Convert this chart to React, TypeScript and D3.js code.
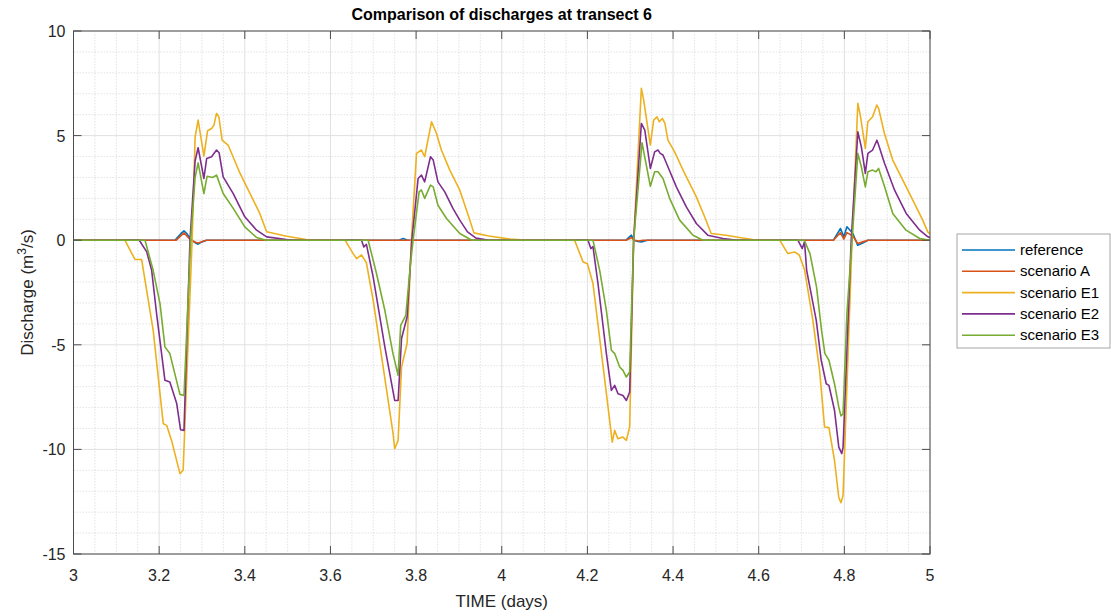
import React from "react";
import * as d3 from "d3";

type P = [number, number];

const xTicks = [3, 3.2, 3.4, 3.6, 3.8, 4, 4.2, 4.4, 4.6, 4.8, 5];
const yTicks = [10, 5, 0, -5, -10, -15];
const seriesNames = ["reference", "scenario A", "scenario E1", "scenario E2", "scenario E3"];
const seriesColors = ["#0072BD", "#D95319", "#EDB120", "#7E2F8E", "#77AC30"];

const reference: P[] = [
  [3, 0], [3.237, 0], [3.25, 0.3], [3.258, 0.45], [3.265, 0.3], [3.276, 0], [3.284, -0.12], [3.291, -0.19], [3.3, -0.08], [3.311, 0],
  [3.76, 0], [3.77, 0.08], [3.78, 0],
  [4.29, 0], [4.3027, 0.24], [4.308, 0], [4.318, -0.06], [4.326, -0.08], [4.34, 0],
  [4.7744, 0], [4.791, 0.56], [4.7987, 0.16], [4.806, 0.64], [4.82, 0.32], [4.831, -0.24], [4.843, -0.13], [4.855, 0], [5, 0],
];

const scenarioA: P[] = [
  [3, 0], [3.24, 0], [3.258, 0.35], [3.274, 0], [3.285, -0.1], [3.291, -0.13], [3.31, 0],
  [4.29, 0], [4.303, 0.12], [4.31, 0], [4.32, -0.04], [4.33, 0],
  [4.7744, 0], [4.791, 0.36], [4.7987, 0.05], [4.806, 0.36], [4.82, 0.2], [4.831, -0.16], [4.843, -0.08], [4.855, 0], [5, 0],
];

const scenarioE1: P[] = [
  [3, 0], [3.12, 0], [3.1435, -0.92], [3.159, -0.92], [3.186, -4.3], [3.2096, -8.77], [3.2175, -8.85], [3.229, -9.57], [3.2485, -11.16], [3.256, -11.0],
  [3.277, 0], [3.284, 4.94], [3.291, 5.74], [3.3045, 4.02], [3.313, 5.23], [3.3225, 5.34], [3.328, 5.5], [3.334, 6.06], [3.3395, 5.9], [3.347, 4.78],
  [3.361, 4.55], [3.389, 3.19], [3.416, 2.07], [3.435, 1.28], [3.451, 0.4], [3.4975, 0.19], [3.544, 0.03], [3.56, 0],
  [3.634, 0], [3.653, -0.64], [3.661, -0.88], [3.6725, -0.7], [3.684, -1.08], [3.6997, -2.87], [3.723, -6.06], [3.7463, -9.25], [3.75, -9.97], [3.758, -9.57],
  [3.766, -6.06], [3.779, -4.94], [3.789, 0], [3.801, 4.15], [3.8125, 4.31], [3.82, 3.99], [3.836, 5.66], [3.8476, 5.1], [3.859, 4.31], [3.8787, 3.35],
  [3.902, 2.39], [3.92, 1.3], [3.935, 0.35], [3.97, 0.2], [4.02, 0.05], [4.06, 0],
  [4.17, 0], [4.19, -1.04], [4.2, -1.12], [4.213, -2.07], [4.233, -5.42], [4.252, -8.61], [4.258, -9.65], [4.2637, -9.09], [4.271, -9.49], [4.283, -9.41],
  [4.291, -9.57], [4.2987, -8.93], [4.308, 0], [4.326, 7.26], [4.3314, 6.7], [4.347, 4.55], [4.3547, 5.74], [4.3625, 5.9], [4.368, 5.66], [4.375, 5.82],
  [4.381, 5.58], [4.388, 4.78], [4.4037, 4.22], [4.427, 3.19], [4.4544, 2.07], [4.4737, 1.12], [4.489, 0.32], [4.524, 0.24], [4.555, 0.13], [4.586, 0.03], [4.6, 0],
  [4.649, 0], [4.668, -0.64], [4.684, -0.56], [4.695, -0.72], [4.7073, -1.44], [4.7265, -3.83], [4.7422, -6.22], [4.7538, -8.93], [4.764, -8.96], [4.777, -10.53],
  [4.787, -12.3], [4.792, -12.55], [4.797, -12.2], [4.818, 0], [4.8315, 6.54], [4.837, 6.0], [4.849, 4.39], [4.8548, 5.66], [4.866, 5.9], [4.8757, 6.46],
  [4.88, 6.3], [4.8936, 5.1], [4.913, 3.83], [4.9444, 2.55], [4.9677, 1.59], [4.983, 0.96], [4.9947, 0.4], [5, 0.3],
];

const scenarioE2: P[] = [
  [3, 0], [3.1536, 0], [3.171, -0.56], [3.1825, -1.44], [3.194, -3.51], [3.2135, -6.7], [3.225, -6.78], [3.241, -7.81], [3.25, -9.06], [3.258, -9.09],
  [3.272, 0], [3.284, 3.8], [3.291, 4.42], [3.3045, 2.95], [3.311, 3.91], [3.3225, 3.99], [3.334, 4.31], [3.34, 4.18], [3.3495, 3.03], [3.373, 2.23],
  [3.4, 1.12], [3.4275, 0.48], [3.451, 0.16], [3.4975, 0.03], [3.52, 0],
  [3.6725, 0], [3.678, -0.32], [3.684, -0.2], [3.6997, -1.75], [3.727, -5.1], [3.75, -7.66], [3.758, -7.66], [3.766, -4.7], [3.779, -3.67], [3.79, 0],
  [3.8047, 2.95], [3.8125, 3.11], [3.82, 2.79], [3.8336, 3.99], [3.84, 3.83], [3.851, 2.79], [3.867, 2.31], [3.886, 1.52], [3.902, 0.96], [3.92, 0.4], [3.94, 0.1], [3.97, 0],
  [4.2014, 0], [4.208, -0.4], [4.213, -0.3], [4.2247, -2.07], [4.2443, -5.42], [4.256, -7.18], [4.2637, -6.94], [4.2715, -7.34], [4.283, -7.42], [4.291, -7.66],
  [4.2987, -7.26], [4.308, 0], [4.326, 5.58], [4.334, 5.26], [4.347, 3.43], [4.357, 4.22], [4.3648, 4.31], [4.37, 4.15], [4.3765, 4.07], [4.388, 3.51],
  [4.4077, 2.55], [4.431, 1.59], [4.4544, 0.8], [4.481, 0.24], [4.5165, 0.08], [4.55, 0],
  [4.6915, 0], [4.7017, -0.4], [4.707, -0.08], [4.712, -1.44], [4.7344, -3.83], [4.746, -5.74], [4.7577, -6.86], [4.764, -6.94], [4.777, -8.13], [4.787, -9.89],
  [4.794, -10.2], [4.797, -9.9], [4.816, 0], [4.8315, 5.18], [4.8397, 4.46], [4.849, 3.19], [4.855, 4.15], [4.866, 4.31], [4.876, 4.78], [4.88, 4.55],
  [4.894, 3.67], [4.9173, 2.39], [4.9444, 1.28], [4.976, 0.48], [4.995, 0.16], [5, 0.12],
];

const scenarioE3: P[] = [
  [3, 0], [3.167, 0], [3.186, -1.44], [3.202, -3.03], [3.2135, -5.1], [3.225, -5.42], [3.2485, -7.37], [3.258, -7.42], [3.2735, 0], [3.284, 3.0],
  [3.291, 3.7], [3.3045, 2.23], [3.312, 3.06], [3.3245, 3.0], [3.334, 3.11], [3.3495, 2.23], [3.373, 1.52], [3.4, 0.64], [3.4275, 0.13], [3.45, 0],
  [3.688, 0], [3.7075, -1.59], [3.727, -3.35], [3.746, -5.42], [3.758, -6.46], [3.764, -4.07], [3.776, -3.59], [3.787, -1.12], [3.793, 0], [3.807, 2.31],
  [3.8125, 2.4], [3.82, 2.0], [3.8336, 2.63], [3.84, 2.55], [3.851, 1.67], [3.871, 1.04], [3.902, 0.32], [3.93, 0],
  [4.213, 0], [4.2287, -1.44], [4.2443, -3.35], [4.256, -5.26], [4.2637, -5.42], [4.2754, -6.06], [4.283, -6.22], [4.291, -6.54], [4.2987, -6.3], [4.308, 0],
  [4.3275, 4.66], [4.347, 2.58], [4.357, 3.27], [4.3648, 3.27], [4.3765, 2.95], [4.392, 2.0], [4.4154, 0.96], [4.4466, 0.24], [4.47, 0],
  [4.7065, 0], [4.7197, -0.64], [4.735, -2.23], [4.7468, -4.31], [4.7546, -5.42], [4.764, -5.74], [4.777, -6.86], [4.787, -7.98], [4.792, -8.4], [4.797, -8.3],
  [4.806, -3.5], [4.818, 0], [4.8315, 4.15], [4.8397, 3.51], [4.849, 2.55], [4.855, 3.27], [4.866, 3.35], [4.874, 3.27], [4.88, 3.43], [4.894, 2.55],
  [4.913, 1.28], [4.944, 0.48], [4.976, 0.08], [5, 0],
];

const allSeries = [reference, scenarioA, scenarioE1, scenarioE2, scenarioE3];

const W = 1111;
const H = 616;
const left = 73.5;
const right = 930;
const top = 31;
const bottom = 554;
const FONT = "'Liberation Sans', Arial, Helvetica, sans-serif";

export default function App() {
  const x = d3.scaleLinear().domain([3, 5]).range([left, right]);
  const y = d3.scaleLinear().domain([-15, 10]).range([bottom, top]);
  const line = d3
    .line<P>()
    .x((d) => x(d[0]))
    .y((d) => y(d[1]));

  const xMinor = d3.range(0, 41).map((i) => 3 + i * 0.05).filter((_, i) => i % 4 !== 0);
  const yMinor = d3.range(0, 26).map((i) => -15 + i).filter((v) => v % 5 !== 0);
  const tickLen = 8;
  const axisColor = "#4d4d4d";

  return (
    <svg width={W} height={H} style={{ position: "absolute", left: 0, top: 0, background: "#fff" }}>
      <rect x={0} y={0} width={W} height={H} fill="#fff" />
      <defs>
        <clipPath id="plotclip">
          <rect x={left} y={top} width={right - left} height={bottom - top} />
        </clipPath>
      </defs>
      {xMinor.map((v, i) => (
        <line key={"xm" + i} x1={x(v)} x2={x(v)} y1={top} y2={bottom} stroke="#dcdcdc" strokeWidth={0.8} strokeDasharray="1.5,1.5" />
      ))}
      {yMinor.map((v, i) => (
        <line key={"ym" + i} x1={left} x2={right} y1={y(v)} y2={y(v)} stroke="#dcdcdc" strokeWidth={0.8} strokeDasharray="1.5,1.5" />
      ))}
      {xTicks.map((v, i) => (
        <line key={"xg" + i} x1={x(v)} x2={x(v)} y1={top} y2={bottom} stroke="#e0e0e0" strokeWidth={1} />
      ))}
      {yTicks.map((v, i) => (
        <line key={"yg" + i} x1={left} x2={right} y1={y(v)} y2={y(v)} stroke="#e0e0e0" strokeWidth={1} />
      ))}
      <g clipPath="url(#plotclip)">
        {allSeries.map((s, i) => (
          <path key={"s" + i} d={line(s) || ""} fill="none" stroke={seriesColors[i]} strokeWidth={1.6} strokeLinejoin="round" />
        ))}
      </g>
      <rect x={left} y={top} width={right - left} height={bottom - top} fill="none" stroke={axisColor} strokeWidth={1} />
      {xTicks.map((v, i) => (
        <g key={"xt" + i}>
          <line x1={x(v)} x2={x(v)} y1={bottom} y2={bottom - tickLen} stroke={axisColor} />
          <line x1={x(v)} x2={x(v)} y1={top} y2={top + tickLen} stroke={axisColor} />
          <text x={x(v)} y={581} textAnchor="middle" fontFamily={FONT} fontSize={16} fill="#262626">
            {String(v)}
          </text>
        </g>
      ))}
      {yTicks.map((v, i) => (
        <g key={"yt" + i}>
          <line x1={left} x2={left + tickLen} y1={y(v)} y2={y(v)} stroke={axisColor} />
          <line x1={right} x2={right - tickLen} y1={y(v)} y2={y(v)} stroke={axisColor} />
          <text x={left - 8} y={y(v) + 6} textAnchor="end" fontFamily={FONT} fontSize={16} fill="#262626">
            {String(v)}
          </text>
        </g>
      ))}
      <text x={(left + right) / 2} y={20} textAnchor="middle" fontFamily={FONT} fontSize={16} fontWeight="bold" fill="#000">
        Comparison of discharges at transect 6
      </text>
      <text x={(left + right) / 2} y={607} textAnchor="middle" fontFamily={FONT} fontSize={17} fill="#262626">
        TIME (days)
      </text>
      <text transform={`translate(33, ${(top + bottom) / 2}) rotate(-90)`} textAnchor="middle" fontFamily={FONT} fontSize={17} fill="#262626">
        Discharge (m<tspan baselineShift="super" fontSize={12}>3</tspan>/s)
      </text>
      <g>
        <rect x={957} y={234} width={153} height={114} fill="#fff" stroke="#a6a6a6" strokeWidth={1} />
        {seriesNames.map((n, i) => {
          const ly = 250 + i * 21.3;
          return (
            <g key={"lg" + i}>
              <line x1={962} x2={1015} y1={ly} y2={ly} stroke={seriesColors[i]} strokeWidth={1.6} />
              <text x={1020} y={ly + 5} fontFamily={FONT} fontSize={15} fill="#000">
                {n}
              </text>
            </g>
          );
        })}
      </g>
    </svg>
  );
}
